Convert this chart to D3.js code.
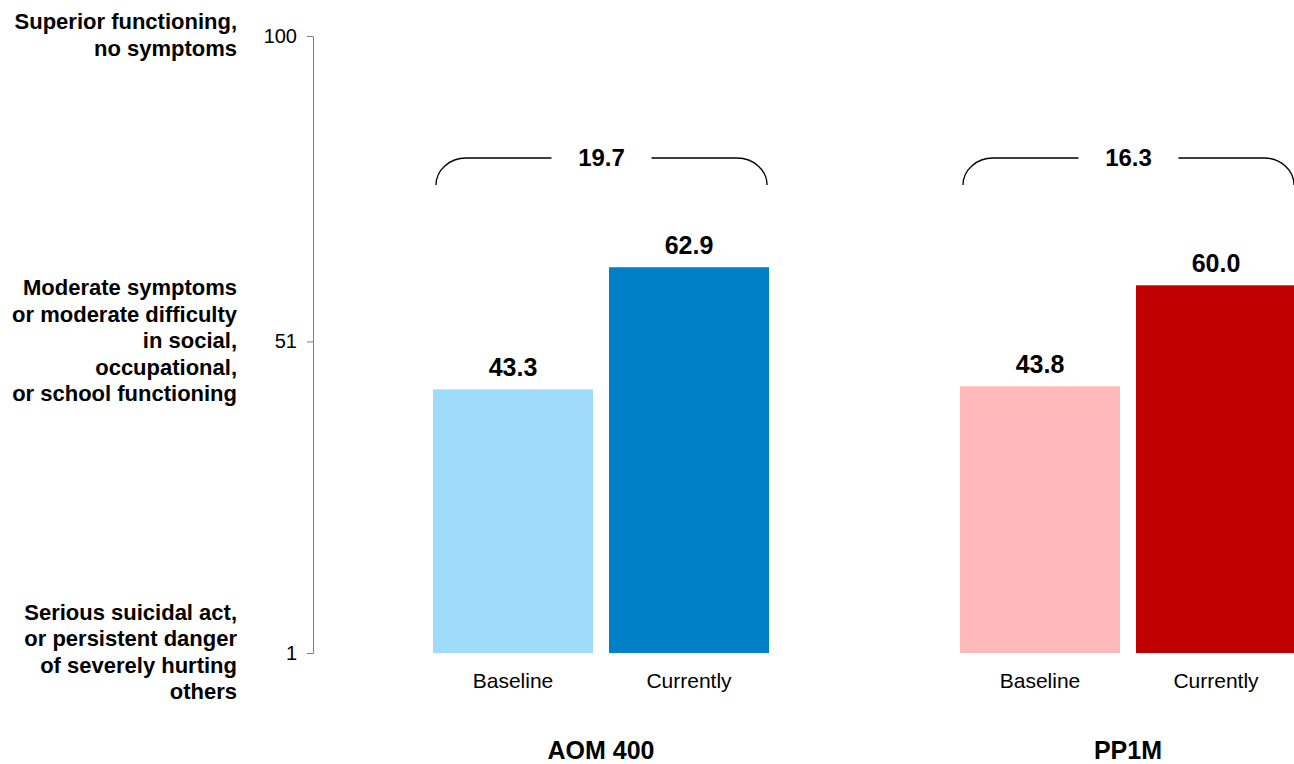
<!DOCTYPE html>
<html>
<head>
<meta charset="utf-8">
<script src="https://cdn.jsdelivr.net/npm/d3@7"></script>
<style>
  html, body { margin: 0; padding: 0; background: #fff; }
  svg { display: block; font-family: "Liberation Sans", Arial, sans-serif; }
</style>
</head>
<body>
<svg id="chart" width="1294" height="764"></svg>
<script>
// ---- data ----
const groups = ["AOM 400", "PP1M"];
const timepoints = ["Baseline", "Currently"];
const aomValues = [43.3, 62.9];
const pp1mValues = [43.8, 60.0];
const differences = ["19.7", "16.3"];
const tickValues = [1, 51, 100];
const tickDescriptions = [
  ["Serious suicidal act,", "or persistent danger", "of severely hurting", "others"],
  ["Moderate symptoms", "or moderate difficulty", "in social,", "occupational,", "or school functioning"],
  ["Superior functioning,", "no symptoms"]
];
const colorsAOM = ["#9fdcfc", "#0080c6"];
const colorsPP1M = ["#ffb9b9", "#c00000"];

const series = [aomValues, pp1mValues];
const palettes = [colorsAOM, colorsPP1M];

const svg = d3.select("#chart");

const y = d3.scaleLinear().domain([1, 100]).range([653, 36]);
const x0 = d3.scaleBand().domain(groups).range([433, 1296]).paddingInner(0.3624).paddingOuter(0);
const x1 = d3.scaleBand().domain(timepoints).range([0, x0.bandwidth()]).paddingInner(0.0909).paddingOuter(0);

// axis
const axisG = svg.append("g")
  .attr("transform", "translate(313,0)")
  .call(d3.axisLeft(y).tickValues(tickValues).tickSize(6).tickSizeOuter(0).tickPadding(10).tickFormat(d3.format("d")));
axisG.select(".domain").attr("stroke", "#808080");
axisG.selectAll(".tick line").attr("stroke", "#808080");
axisG.selectAll(".tick text").attr("font-size", 20).attr("fill", "#000")
  .attr("font-family", "'Liberation Sans', Arial, sans-serif");

// left descriptions
tickValues.forEach((v, i) => {
  const lines = tickDescriptions[i];
  const lh = 26.5;
  const t = svg.append("text")
    .attr("text-anchor", "end")
    .attr("font-size", 22)
    .attr("font-weight", "bold")
    .attr("fill", "#000");
  lines.forEach((ln, j) => {
    t.append("tspan")
      .attr("x", 237)
      .attr("y", y(v) + (j - (lines.length - 1) / 2) * lh - 1)
      .attr("dy", "0.35em")
      .text(ln);
  });
});

// bars
groups.forEach((g, gi) => {
  const gx = x0(g);
  const gEl = svg.append("g").attr("transform", `translate(${gx},0)`);
  gEl.selectAll("rect")
    .data(series[gi])
    .join("rect")
    .attr("x", (d, i) => x1(timepoints[i]))
    .attr("y", d => y(d))
    .attr("width", x1.bandwidth())
    .attr("height", d => y(1) - y(d))
    .attr("fill", (d, i) => palettes[gi][i]);

  gEl.selectAll("text.val")
    .data(series[gi])
    .join("text")
    .attr("class", "val")
    .attr("x", (d, i) => x1(timepoints[i]) + x1.bandwidth() / 2)
    .attr("y", d => y(d) - 13)
    .attr("text-anchor", "middle")
    .attr("font-size", 25)
    .attr("font-weight", "bold")
    .attr("fill", "#000")
    .text(d => d3.format(".1f")(d));

  gEl.selectAll("text.cat")
    .data(timepoints)
    .join("text")
    .attr("class", "cat")
    .attr("x", d => x1(d) + x1.bandwidth() / 2)
    .attr("y", 688)
    .attr("text-anchor", "middle")
    .attr("font-size", 21)
    .attr("fill", "#000")
    .text(d => d);

  svg.append("text")
    .attr("x", gx + x0.bandwidth() / 2)
    .attr("y", 759)
    .attr("text-anchor", "middle")
    .attr("font-size", 25)
    .attr("font-weight", "bold")
    .attr("fill", "#000")
    .text(g);

  // bracket
  const left = gx + 3, right = gx + x0.bandwidth() - 2;
  const cx = (left + right) / 2;
  const by = 158, bb = 185, rx = 30, gap = 50;
  const path = `M${left},${bb} A${rx},${bb - by} 0 0 1 ${left + rx},${by} L${cx - gap},${by} ` +
               `M${cx + gap},${by} L${right - rx},${by} A${rx},${bb - by} 0 0 1 ${right},${bb}`;
  svg.append("path").attr("d", path).attr("fill", "none").attr("stroke", "#000").attr("stroke-width", 1.3);
  svg.append("text")
    .attr("x", cx)
    .attr("y", by)
    .attr("dy", "0.35em")
    .attr("text-anchor", "middle")
    .attr("font-size", 24)
    .attr("font-weight", "bold")
    .attr("fill", "#000")
    .text(differences[gi]);
});
</script>
</body>
</html>
